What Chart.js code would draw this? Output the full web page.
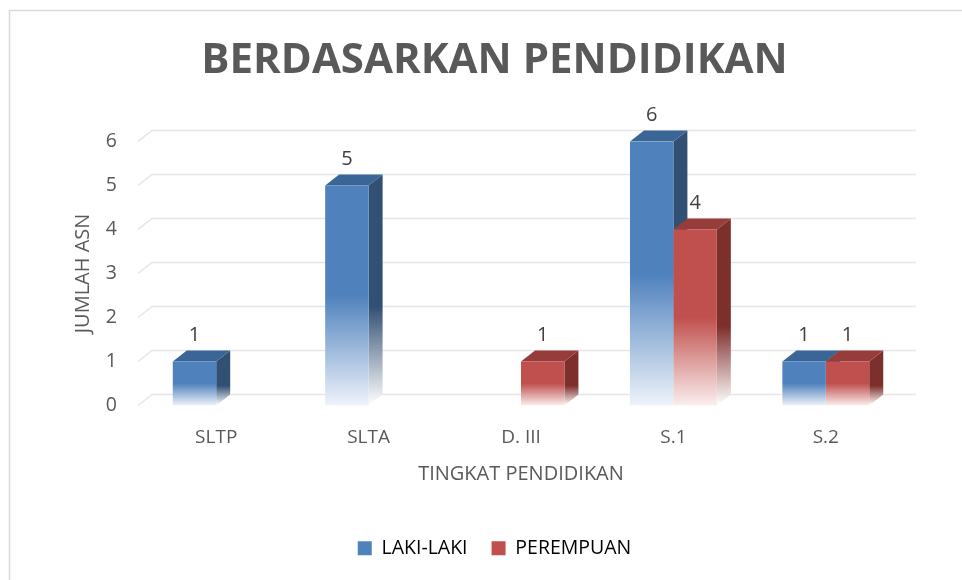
<!DOCTYPE html>
<html>
<head>
<meta charset="utf-8">
<script src="https://cdn.jsdelivr.net/npm/chart.js@4.4.0/dist/chart.umd.min.js"></script>
<style>
  html, body { margin: 0; padding: 0; background: #fff; }
</style>
</head>
<body>
<canvas id="myGraph" width="962" height="580"></canvas>
<script>
const categories = ["SLTP", "SLTA", "D. III", "S.1", "S.2"];
const lakiLaki = [1, 5, null, 6, 1];
const perempuan = [null, null, 1, 4, 1];
const yTicks = [0, 1, 2, 3, 4, 5, 6];

// colours for the fake 3D faces
const BLUE = { front: "#4f81bd", side: "#324f74", top: "#3a6597", fade: "#eef3fa" };
const RED = { front: "#c0504d", side: "#7d2f2d", top: "#963c3a", fade: "#fbeeee" };
const DX = 14, DY = 11; // depth of the bars

function frontFill(c) {
  return (ctx) => {
    const y = ctx.chart.scales.y;
    if (!y || ctx.raw == null) return c.front;
    const top = y.getPixelForValue(ctx.raw);
    const bottom = y.getPixelForValue(0);
    const g = ctx.chart.ctx.createLinearGradient(0, top, 0, bottom);
    g.addColorStop(0, c.front);
    g.addColorStop(0.5, c.front);
    g.addColorStop(1, c.fade);
    return g;
  };
}

// gridlines on the back wall + side/top faces of the bars
const bars3d = {
  id: "bars3d",
  beforeDraw(chart) {
    const ctx = chart.ctx;
    ctx.save();
    ctx.strokeStyle = "#d9d9d9";
    ctx.lineWidth = 1.5;
    ctx.strokeRect(9.5, 10.5, 1200, 1200);
    ctx.restore();
  },
  beforeDatasetsDraw(chart) {
    const ctx = chart.ctx;
    const area = chart.chartArea;
    const y = chart.scales.y;
    ctx.save();
    ctx.strokeStyle = "#e6e6e6";
    ctx.lineWidth = 1.5;
    yTicks.forEach((t) => {
      const py = y.getPixelForValue(t);
      ctx.beginPath();
      ctx.moveTo(area.left - 2, py);
      ctx.lineTo(area.left - 2 + DX, py - DY);
      ctx.lineTo(area.right + DX, py - DY);
      ctx.stroke();
    });

    chart.data.datasets.forEach((ds, di) => {
      const meta = chart.getDatasetMeta(di);
      const c = di === 0 ? BLUE : RED;
      meta.data.forEach((bar, i) => {
        if (ds.data[i] == null) return;
        const p = bar.getProps(["x", "y", "base", "width"], true);
        const l = p.x - p.width / 2, r = p.x + p.width / 2;
        // side face
        const g = ctx.createLinearGradient(0, p.y, 0, p.base);
        g.addColorStop(0, c.side);
        g.addColorStop(0.55, c.side);
        g.addColorStop(1, "#ffffff");
        ctx.fillStyle = g;
        ctx.beginPath();
        ctx.moveTo(r, p.y);
        ctx.lineTo(r + DX, p.y - DY);
        ctx.lineTo(r + DX, p.base - DY);
        ctx.lineTo(r, p.base);
        ctx.closePath();
        ctx.fill();
        // top face
        ctx.fillStyle = c.top;
        ctx.beginPath();
        ctx.moveTo(l, p.y);
        ctx.lineTo(l + DX, p.y - DY);
        ctx.lineTo(r + DX, p.y - DY);
        ctx.lineTo(r, p.y);
        ctx.closePath();
        ctx.fill();
      });
    });
    ctx.restore();
  },
  afterDatasetsDraw(chart) {
    const ctx = chart.ctx;
    ctx.save();
    ctx.font = "20px 'Open Sans'";
    ctx.fillStyle = "#404040";
    ctx.textAlign = "center";
    ctx.textBaseline = "middle";
    chart.data.datasets.forEach((ds, di) => {
      const meta = chart.getDatasetMeta(di);
      meta.data.forEach((bar, i) => {
        if (ds.data[i] == null) return;
        const p = bar.getProps(["x", "y"], true);
        ctx.fillText(ds.data[i], p.x, p.y - 26);
      });
    });
    ctx.restore();
  }
};

new Chart(document.getElementById("myGraph"), {
  type: "bar",
  data: {
    labels: categories,
    datasets: [{
      label: "LAKI-LAKI",
      data: lakiLaki,
      backgroundColor: frontFill(BLUE)
    }, {
      label: "PEREMPUAN",
      data: perempuan,
      backgroundColor: frontFill(RED)
    }]
  },
  options: {
    responsive: false,
    animation: false,
    categoryPercentage: 0.57,
    barPercentage: 1,
    layout: { padding: { left: 27, right: 0, top: 0, bottom: 12 } },
    plugins: {
      tooltip: { enabled: false },
      title: {
        display: true,
        text: "BERDASARKAN PENDIDIKAN",
        color: "#595959",
        font: { family: "'Open Sans'", size: 42, weight: "bold" },
        padding: { top: 36, bottom: 55 }
      },
      legend: {
        position: "bottom",
        labels: {
          color: "#595959",
          font: { family: "'Open Sans'", size: 19.5 },
          boxWidth: 14,
          boxHeight: 14,
          padding: 24,
          generateLabels: (chart) => chart.data.datasets.map((ds, i) => ({
            text: ds.label,
            fillStyle: i === 0 ? BLUE.front : RED.front,
            strokeStyle: "transparent",
            lineWidth: 0,
            datasetIndex: i
          }))
        }
      }
    },
    scales: {
      x: {
        afterFit: (s) => { s.height = 109; },
        grid: { display: false, drawTicks: false },
        border: { display: false },
        ticks: { color: "#595959", font: { family: "'Open Sans'", size: 19 }, padding: 21 },
        title: {
          display: true,
          text: "TINGKAT PENDIDIKAN",
          color: "#595959",
          font: { family: "'Open Sans'", size: 20 },
          padding: { top: 10, bottom: 28 }
        }
      },
      y: {
        min: 0,
        max: 6,
        afterFit: (s) => { s.width = 113; },
        grid: { display: false, drawTicks: false },
        border: { display: false },
        ticks: {
          stepSize: 1,
          color: "#595959",
          font: { family: "'Open Sans'", size: 19.5 },
          padding: 23
        },
        title: {
          display: true,
          text: "JUMLAH ASN",
          color: "#595959",
          font: { family: "'Open Sans'", size: 20 },
          padding: { top: 44, bottom: 0 }
        }
      },
      y2: {
        position: "right",
        display: true,
        afterFit: (s) => { s.width = 60; },
        grid: { display: false },
        border: { display: false },
        ticks: { display: false }
      }
    }
  },
  plugins: [bars3d]
});
</script>
</body>
</html>
